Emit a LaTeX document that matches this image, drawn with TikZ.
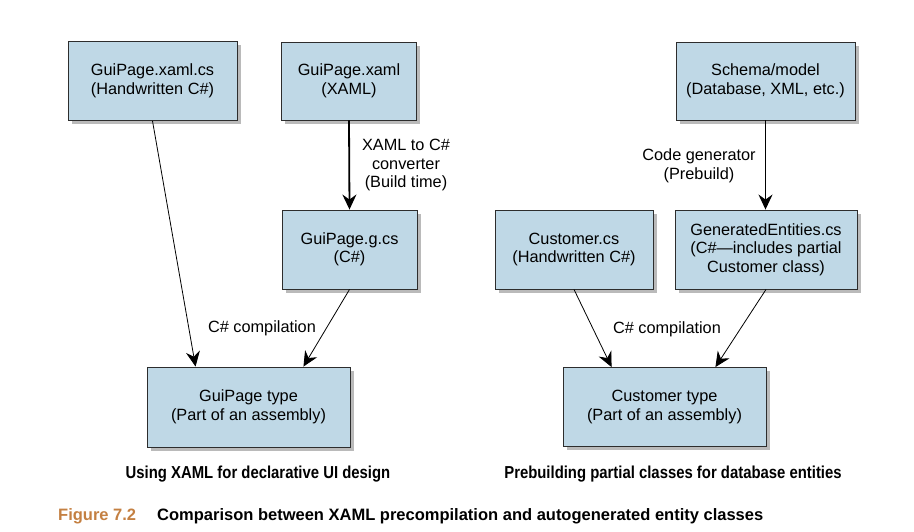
\documentclass[tikz,border=0pt]{standalone}
\usepackage{fontspec}
\setmainfont{Liberation Sans}
\newfontfamily\condfont[FakeStretch=0.86]{Liberation Sans}
\usetikzlibrary{arrows.meta,shadows,calc}
\definecolor{boxfill}{RGB}{191,216,230}
\definecolor{boxline}{RGB}{45,45,45}
\definecolor{figcol}{RGB}{196,128,66}
\tikzset{
  box/.style={draw=boxline, line width=0.9pt, fill=boxfill, align=center,
    inner sep=0pt, font=\fontsize{16.3}{18.5}\selectfont,
    drop shadow={shadow xshift=3.5pt, shadow yshift=-3.5pt, fill=black!45, opacity=0.6}},
  lbl/.style={align=center, font=\fontsize{16.3}{18.5}\selectfont},
  tip/.style={-{Stealth[length=15pt, width=14pt, inset=5pt]}},
  conn/.style={line width=0.8pt, tip},
  thickconn/.style={line width=1.8pt, tip},
  midconn/.style={line width=1.1pt, tip},
  subcap/.style={font=\condfont\bfseries\fontsize{17.3}{20}\selectfont},
}
\begin{document}
\begin{tikzpicture}[x=1pt,y=-1pt]
\useasboundingbox (0,0) rectangle (914,531);
% left diagram
\node[box, minimum width=169pt, minimum height=79pt] (xamlcs) at (152.5,81) {GuiPage.xaml.cs\\(Handwritten C\#)};
\node[box, minimum width=135pt, minimum height=78pt] (xaml) at (349,81) {GuiPage.xaml\\(XAML)};
\node[box, minimum width=135pt, minimum height=79pt] (gcs) at (349.5,249.5) {GuiPage.g.cs\\(C\#)};
\node[box, minimum width=203pt, minimum height=80pt] (guitype) at (248.5,407) {GuiPage type\\(Part of an assembly)};
\draw[thickconn] (xaml.south) -- (gcs.north);
\draw[conn] (xamlcs.south) -- ($(guitype.north west)+(49,0)$);
\draw[conn] (gcs.south) -- ($(guitype.north east)+(-47,0)$);
\node[lbl] (convlbl) at (406,165) {XAML to C\#\\converter\\(Build time)};
\node[lbl] (complbl1) at (262,328) {C\# compilation};
\node[subcap] (cap1) at (258,474) {Using XAML for declarative UI design};
% right diagram
\node[box, minimum width=179pt, minimum height=78pt] (schema) at (765.5,81) {Schema/model\\(Database, XML, etc.)};
\node[box, minimum width=158pt, minimum height=79pt] (custcs) at (574,249.5) {Customer.cs\\(Handwritten C\#)};
\node[box, minimum width=182pt, minimum height=79pt] (gen) at (766,249.5) {GeneratedEntities.cs\\(C\#—includes partial\\Customer class)};
\node[box, minimum width=203pt, minimum height=79pt] (custtype) at (664.5,407) {Customer type\\(Part of an assembly)};
\draw[midconn] (schema.south) -- (schema.south |- gen.north);
\draw[conn] (custcs.south) -- ($(custtype.north west)+(49,0)$);
\draw[conn] (gen.south) -- ($(custtype.north east)+(-51,0)$);
\node[lbl] (genlbl) at (699,166) {Code generator\\(Prebuild)};
\node[lbl] (complbl2) at (667,329) {C\# compilation};
\node[subcap] (cap2) at (673,474) {Prebuilding partial classes for database entities};
% figure caption
\node[anchor=west, font=\bfseries\fontsize{16.5}{19}\selectfont, text=figcol, inner sep=0pt] (fignum) at (58,516) {Figure 7.2};
\node[anchor=west, font=\bfseries\fontsize{16.5}{19}\selectfont, inner sep=0pt] (figtext) at (157,516) {Comparison between XAML precompilation and autogenerated entity classes};
\end{tikzpicture}
\end{document}
